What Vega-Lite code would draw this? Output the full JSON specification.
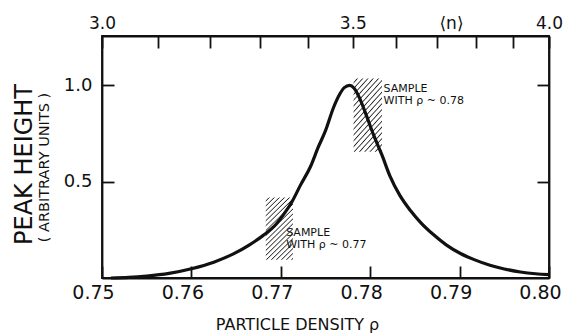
{
  "$schema": "https://vega.github.io/schema/vega-lite/v6.json",
  "width": 447,
  "height": 242,
  "autosize": "none",
  "padding": {"left": 102, "top": 36, "right": 16, "bottom": 55},
  "background": "white",
  "config": {
    "font": "DejaVu Sans",
    "view": {"stroke": "#111", "strokeWidth": 1.8},
    "axis": {
      "domainColor": "#111", "domainWidth": 1.8,
      "tickColor": "#111", "tickWidth": 1.8, "tickSize": -12,
      "grid": false, "labelColor": "#111", "titleColor": "#111",
      "labelFont": "DejaVu Sans", "titleFont": "DejaVu Sans",
      "titleFontWeight": "normal", "labelFlush": false, "labelOverlap": false
    }
  },
  "layer": [
    {
      "data": {"values": [
        {"rho": 0.76832, "rho2": 0.77136, "h": 0.095, "h2": 0.418},
        {"rho": 0.77814, "rho2": 0.78132, "h": 0.655, "h2": 1.035}
      ]},
      "mark": {"type": "rect", "fill": {
        "gradient": "linear", "x1": 0, "y1": 0, "x2": 0.517, "y2": 1.207,
        "stops": [
          {"offset": 0, "color": "#fff"}, {"offset": 0.02778, "color": "#fff"}, {"offset": 0.04, "color": "#222"}, {"offset": 0.05222, "color": "#fff"},
          {"offset": 0.05556, "color": "#fff"}, {"offset": 0.08333, "color": "#fff"}, {"offset": 0.09556, "color": "#222"}, {"offset": 0.10778, "color": "#fff"},
          {"offset": 0.11111, "color": "#fff"}, {"offset": 0.13889, "color": "#fff"}, {"offset": 0.15111, "color": "#222"}, {"offset": 0.16333, "color": "#fff"},
          {"offset": 0.16667, "color": "#fff"}, {"offset": 0.19444, "color": "#fff"}, {"offset": 0.20667, "color": "#222"}, {"offset": 0.21889, "color": "#fff"},
          {"offset": 0.22222, "color": "#fff"}, {"offset": 0.25, "color": "#fff"}, {"offset": 0.26222, "color": "#222"}, {"offset": 0.27444, "color": "#fff"},
          {"offset": 0.27778, "color": "#fff"}, {"offset": 0.30556, "color": "#fff"}, {"offset": 0.31778, "color": "#222"}, {"offset": 0.33, "color": "#fff"},
          {"offset": 0.33333, "color": "#fff"}, {"offset": 0.36111, "color": "#fff"}, {"offset": 0.37333, "color": "#222"}, {"offset": 0.38556, "color": "#fff"},
          {"offset": 0.38889, "color": "#fff"}, {"offset": 0.41667, "color": "#fff"}, {"offset": 0.42889, "color": "#222"}, {"offset": 0.44111, "color": "#fff"},
          {"offset": 0.44444, "color": "#fff"}, {"offset": 0.47222, "color": "#fff"}, {"offset": 0.48444, "color": "#222"}, {"offset": 0.49667, "color": "#fff"},
          {"offset": 0.5, "color": "#fff"}, {"offset": 0.52778, "color": "#fff"}, {"offset": 0.54, "color": "#222"}, {"offset": 0.55222, "color": "#fff"},
          {"offset": 0.55556, "color": "#fff"}, {"offset": 0.58333, "color": "#fff"}, {"offset": 0.59556, "color": "#222"}, {"offset": 0.60778, "color": "#fff"},
          {"offset": 0.61111, "color": "#fff"}, {"offset": 0.63889, "color": "#fff"}, {"offset": 0.65111, "color": "#222"}, {"offset": 0.66333, "color": "#fff"},
          {"offset": 0.66667, "color": "#fff"}, {"offset": 0.69444, "color": "#fff"}, {"offset": 0.70667, "color": "#222"}, {"offset": 0.71889, "color": "#fff"},
          {"offset": 0.72222, "color": "#fff"}, {"offset": 0.75, "color": "#fff"}, {"offset": 0.76222, "color": "#222"}, {"offset": 0.77444, "color": "#fff"},
          {"offset": 0.77778, "color": "#fff"}, {"offset": 0.80556, "color": "#fff"}, {"offset": 0.81778, "color": "#222"}, {"offset": 0.83, "color": "#fff"},
          {"offset": 0.83333, "color": "#fff"}, {"offset": 0.86111, "color": "#fff"}, {"offset": 0.87333, "color": "#222"}, {"offset": 0.88556, "color": "#fff"},
          {"offset": 0.88889, "color": "#fff"}, {"offset": 0.91667, "color": "#fff"}, {"offset": 0.92889, "color": "#222"}, {"offset": 0.94111, "color": "#fff"},
          {"offset": 0.94444, "color": "#fff"}, {"offset": 0.97222, "color": "#fff"}, {"offset": 0.98444, "color": "#222"}, {"offset": 1, "color": "#fff"}
        ]}},
      "encoding": {
        "x": {"field": "rho", "type": "quantitative", "scale": {"domain": [0.75, 0.8], "nice": false, "zero": false}, "axis": null},
        "x2": {"field": "rho2"},
        "y": {"field": "h", "type": "quantitative", "scale": {"domain": [0, 1.256], "nice": false}, "axis": null},
        "y2": {"field": "h2"}
      }
    },
    {
      "data": {"values": [
        {"rho": 0.7510, "h": 0.000}, {"rho": 0.7530, "h": 0.003}, {"rho": 0.7550, "h": 0.010},
        {"rho": 0.7575, "h": 0.024}, {"rho": 0.7600, "h": 0.048}, {"rho": 0.7625, "h": 0.082},
        {"rho": 0.7647, "h": 0.125}, {"rho": 0.7665, "h": 0.172}, {"rho": 0.7680, "h": 0.220},
        {"rho": 0.7695, "h": 0.280}, {"rho": 0.7704, "h": 0.335}, {"rho": 0.7713, "h": 0.400},
        {"rho": 0.7722, "h": 0.482}, {"rho": 0.7733, "h": 0.576}, {"rho": 0.7742, "h": 0.680},
        {"rho": 0.7750, "h": 0.765}, {"rho": 0.7759, "h": 0.885}, {"rho": 0.7766, "h": 0.955},
        {"rho": 0.7771, "h": 0.988}, {"rho": 0.7777, "h": 1.000}, {"rho": 0.7782, "h": 0.985},
        {"rho": 0.7788, "h": 0.935}, {"rho": 0.7796, "h": 0.840}, {"rho": 0.7804, "h": 0.740},
        {"rho": 0.7813, "h": 0.640}, {"rho": 0.7822, "h": 0.530}, {"rho": 0.7833, "h": 0.430},
        {"rho": 0.7845, "h": 0.350}, {"rho": 0.7857, "h": 0.285}, {"rho": 0.7870, "h": 0.228},
        {"rho": 0.7885, "h": 0.172}, {"rho": 0.7901, "h": 0.127}, {"rho": 0.7917, "h": 0.094},
        {"rho": 0.7934, "h": 0.066}, {"rho": 0.7950, "h": 0.047}, {"rho": 0.7968, "h": 0.031},
        {"rho": 0.7985, "h": 0.022}, {"rho": 0.8000, "h": 0.018}
      ]},
      "mark": {"type": "line", "color": "#111", "strokeWidth": 3.2, "interpolate": "monotone"},
      "encoding": {
        "x": {"field": "rho", "type": "quantitative", "scale": {"domain": [0.75, 0.8], "nice": false, "zero": false},
          "axis": {"orient": "bottom", "values": [0.75, 0.76, 0.77, 0.78, 0.79, 0.8], "format": ".2f",
            "labelFontSize": 19, "labelOffset": -9, "labelPadding": 17,
            "title": "PARTICLE  DENSITY  ρ", "titleFontSize": 16, "titleX": 195, "titleY": 51, "titleBaseline": "alphabetic"}},
        "y": {"field": "h", "type": "quantitative", "scale": {"domain": [0, 1.256], "nice": false},
          "axis": {"orient": "left", "values": [0.5, 1.0], "format": ".1f", "labelFontSize": 18, "labelPadding": 22,
            "title": "( ARBITRARY  UNITS )", "titleFontSize": 14.5, "titleX": -58, "titleY": 131, "titleBaseline": "middle"}}
      }
    },
    {
      "data": {"values": [
        {"rho": 0.7815, "h": 1.012, "label": "SAMPLE\nWITH ρ ~ 0.78"},
        {"rho": 0.7706, "h": 0.264, "label": "SAMPLE\nWITH ρ ~ 0.77"}
      ]},
      "mark": {"type": "text", "align": "left", "baseline": "top", "fontSize": 11, "lineHeight": 11.5, "lineBreak": "\n", "color": "#111"},
      "encoding": {
        "x": {"field": "rho", "type": "quantitative", "scale": {"domain": [0.75, 0.8], "nice": false, "zero": false}, "axis": null},
        "y": {"field": "h", "type": "quantitative", "scale": {"domain": [0, 1.256], "nice": false}, "axis": null},
        "text": {"field": "label"}
      }
    },
    {
      "data": {"values": [{"n": 3.0, "h": 0}, {"n": 4.0, "h": 0}]},
      "mark": {"type": "point", "opacity": 0},
      "encoding": {
        "x": {"field": "n", "type": "quantitative", "scale": {"type": "pow", "exponent": -0.7, "domain": [3, 4], "nice": false, "zero": false},
          "axis": {"orient": "top", "values": [3.0, 3.1, 3.2, 3.3, 3.4, 3.5, 3.6, 3.7, 3.8, 3.9, 4.0],
            "labelExpr": "(datum.value == 3 || datum.value == 3.5 || datum.value == 4) ? format(datum.value, '.1f') : ''",
            "labelFontSize": 17, "labelPadding": 16,
            "title": "⟨n⟩", "titleFontSize": 17, "titleX": 349, "titleY": -8, "titleBaseline": "alphabetic"}},
        "y": {"field": "h", "type": "quantitative", "scale": {"domain": [0, 1.256], "nice": false},
          "axis": {"orient": "right", "values": [0.5, 1.0], "labels": false, "title": null}}
      }
    },
    {
      "data": {"values": [{"h": 0}]},
      "mark": {"type": "point", "opacity": 0},
      "encoding": {
        "y": {"field": "h", "type": "quantitative", "scale": {"domain": [0, 1.256], "nice": false},
          "axis": {"orient": "left", "labels": false, "ticks": false, "domain": false,
            "title": "PEAK  HEIGHT", "titleFontSize": 24, "titleX": -78, "titleY": 128, "titleBaseline": "middle"}}
      }
    }
  ],
  "resolve": {"scale": {"x": "independent"}, "axis": {"x": "independent", "y": "independent"}}
}
